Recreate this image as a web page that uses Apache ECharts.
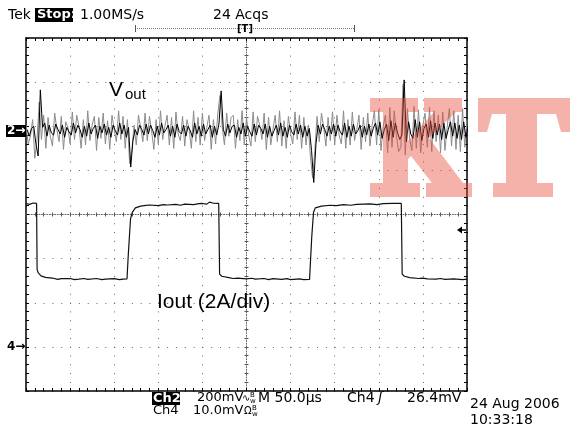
<!DOCTYPE html>
<html>
<head>
<meta charset="utf-8">
<script src="https://cdn.jsdelivr.net/npm/echarts@6/dist/echarts.min.js"></script>
<style>
  html, body { margin: 0; padding: 0; background: #fff; }
  #mychart { width: 573px; height: 433px; }
</style>
</head>
<body>
<div id="mychart"></div>
<script>
// time base 50us/div, 10 divisions
var timeMin = 0, timeMax = 500, timeDiv = 50;
// Ch2 (Vout) 200mV/div, ground marker 1.9 div above centre
var ch2Min = -1180, ch2Max = 420;
// Ch4 (Iout) 2A/div, ground marker 3 div below centre
var ch4Min = -2, ch4Max = 14, ch4Div = 2;
var vStep = 2.5; // us between Vout samples

// Vout ripple in mV, earlier acquisitions (grey)
var voutGray = [
  25, -60, -25, 50, -125, -40, 130, -40, 70, -80,
  60, -25, -70, 80, 5, -50, 65, -85, 40, 15,
  -60, 85, -40, 70, 20, -80, 50, -65, 90, -45,
  25, 65, -90, 60, -35, 80, -60, 45, -85, 70,
  5, -50, 90, -40, 65, -80, 50, -150, -90, 25,
  -65, 70, 15, -50, 80, -45, 65, -5, -85, 50,
  -60, 90, -40, 20, 70, -65, 60, -80, 85, -15,
  -45, 65, -70, 50, 5, -80, 90, -50, 60, -65,
  80, -45, 15, 70, -85, 50, -60, 80, 160, 15,
  -65, 80, -25, 60, 70, -80, 50, -45, 90, -65,
  60, -20, -70, 85, -50, 65, 25, -40, 80, -85,
  60, -65, 5, 70, -50, 90, -70, 45, -80, 65,
  -15, -60, 85, -40, 70, -80, 60, -65, 25, -120,
  -215, -90, 65, -50, 80, 15, -70, 60, -45, 85,
  -65, 70, -20, -60, 90, -80, 50, -65, 85, -45,
  5, 70, -85, 60, -50, 80, -70, 25, 90, -65,
  95, -90, 20, 70, -100, 105, -75, 90, -25, -95,
  -75, 210, -110, 100, -40, -90, 110, -80, 95, -100,
  25, 80, -75, 105, -95, 90, -50, 70, -100, 85,
  -90, 15, 100, -70, 90, -85, 70, -95, 100, -75,
  50
];
// Vout ripple in mV, last acquisition (black), sampled half a step later
var voutBlack = [
  5, -25, 10, 20, -60, -115, 185, 15, 35, -25,
  25, -10, -20, 30, 5, -15, 25, -30, 15, -5,
  -20, 35, -10, 25, 5, -30, 20, -25, 35, -15,
  10, 25, -35, 20, -10, 30, -20, 15, -30, 25,
  0, -20, 35, -15, 25, -30, 15, -165, -45, 5,
  -20, 25, 5, -20, 30, -15, 25, 0, -30, 20,
  -20, 35, -10, 5, 25, -25, 20, -30, 30, -5,
  -15, 25, -25, 20, 0, -30, 35, -15, 20, -25,
  30, -15, 5, 25, -30, 20, -20, 30, 180, 5,
  -25, 30, -10, 20, 25, -30, 15, -15, 35, -25,
  20, -5, -25, 30, -20, 25, 10, -15, 30, -30,
  20, -25, 0, 25, -20, 35, -25, 15, -30, 25,
  -5, -20, 30, -15, 25, -30, 20, -25, 10, -90,
  -235, -60, 25, -15, 30, 5, -25, 20, -15, 30,
  -25, 25, -5, -20, 35, -30, 20, -25, 30, -15,
  0, 25, -30, 20, -20, 30, -25, 10, 35, -20,
  40, -35, 5, 30, -45, 45, -30, 35, -10, -40,
  -20, 230, -50, 40, -15, -35, 50, -30, 40, -45,
  10, 30, -30, 45, -35, 35, -20, 30, -40, 35,
  -35, 5, 40, -25, 35, -35, 25, -40, 40, -30,
  15
];
// Iout [us, A]
var ioutPts = [
  [0, 6.5], [4, 6.46], [8, 6.52], [12, 6.5], [12.6, 3.5], [14, 3.35], [17, 3.22], [22, 3.15],
  [30, 3.12], [36, 3.06], [40, 3.09], [50, 3.1], [55, 3.05], [60, 3.07], [66, 3.1], [70, 3.06],
  [80, 3.1], [86, 3.05], [90, 3.07], [100, 3.09], [106, 3.05], [110, 3.07], [114.5, 3.08],
  [116, 4.2], [118.5, 5.8], [120.5, 6.1], [124, 6.3], [130, 6.38], [136, 6.41], [140, 6.43],
  [150, 6.4], [156, 6.45], [160, 6.43], [170, 6.46], [175, 6.42], [180, 6.47], [190, 6.45],
  [196, 6.49], [200, 6.5], [205, 6.47], [208, 6.56], [212, 6.52], [218.5, 6.5],
  [219.5, 3.3], [222, 3.2], [230, 3.14], [235, 3.1], [240, 3.12], [250, 3.08], [256, 3.11],
  [260, 3.07], [270, 3.1], [275, 3.05], [280, 3.09], [290, 3.06], [296, 3.09], [300, 3.05],
  [310, 3.08], [315, 3.05], [321.5, 3.06], [324, 5.0], [326, 6.1], [328, 6.3], [335, 6.38],
  [345, 6.42], [352, 6.4], [360, 6.45], [368, 6.42], [375, 6.46], [390, 6.48], [398, 6.45],
  [405, 6.49], [415, 6.5], [425.5, 6.5], [426.5, 3.3], [429, 3.2], [435, 3.14], [445, 3.1],
  [450, 3.12], [455, 3.08], [465, 3.07], [470, 3.1], [475, 3.06], [485, 3.08], [495, 3.05],
  [500, 3.07]
];

var grayData = voutGray.map(function (v, i) { return [i * vStep, v]; });
var blackData = voutBlack.map(function (v, i) { return [(i + 0.5) * vStep, v]; });

var mychart = echarts.init(document.getElementById('mychart'));

var dots = { show: true, lineStyle: { color: '#666', width: 1, type: [1, 7.82] } };
function borderAxis(pos, extra) {
  var a = {
    position: pos,
    axisLine: { show: true, onZero: false, lineStyle: { color: '#000', width: 1.5 } },
    axisTick: { show: true, inside: true, length: 3, lineStyle: { color: '#000' } },
    minorTick: { show: true, splitNumber: 5, length: 3, lineStyle: { color: '#000' } },
    axisLabel: { show: false },
    splitLine: { show: false }
  };
  for (var k in extra) a[k] = extra[k];
  return a;
}
function centreAxis(pos, off, inside, lineOn) {
  return {
    position: pos, offset: off,
    axisLine: { show: lineOn, onZero: false, lineStyle: { color: '#666', width: 1, type: [1, 1.6] } },
    axisTick: { show: true, inside: inside, length: 2, lineStyle: { color: '#555' } },
    minorTick: { show: true, splitNumber: 5, length: 2, lineStyle: { color: '#555' } },
    axisLabel: { show: false },
    splitLine: { show: false }
  };
}
function xa(o) { o.type = 'value'; o.min = timeMin; o.max = timeMax; o.interval = timeDiv; return o; }
function ya(o) { o.type = 'value'; o.min = -4; o.max = 4; o.interval = 1; return o; }

function txt(x, y, s, o) {
  o = o || {};
  return {
    type: 'text', x: x, y: y, z: o.z || 10,
    style: {
      text: s, fill: o.fill || '#000',
      font: o.font || '14px "DejaVu Sans"',
      textAlign: o.align || 'left', textVerticalAlign: 'middle'
    }
  };
}
function box(x, y, w, h) {
  return { type: 'rect', z: 9, shape: { x: x, y: y, width: w, height: h }, style: { fill: '#000' } };
}
// slab-serif "KT" stamp outlines
var kShape = [
  [370, 98], [418, 98], [418, 112], [408, 112], [408, 141], [434, 112], [424, 112], [424, 98],
  [462, 98], [462, 112], [456, 112], [429, 138], [463, 183], [472, 183], [472, 197], [426, 197],
  [426, 183], [432, 183], [411, 156], [408, 159], [408, 183], [420, 183], [420, 197], [370, 197],
  [370, 183], [383, 183], [383, 112], [370, 112]
];
var tShape = [
  [478, 98], [570, 98], [570, 132], [561, 132], [556, 114], [537, 114], [537, 183], [553, 183],
  [553, 197], [493, 197], [493, 183], [506, 183], [506, 114], [492, 114], [487, 132], [478, 132]
];
var stampFill = 'rgba(228,71,52,0.42)';

var option = {
  animation: false,
  backgroundColor: '#fff',
  grid: { left: 26, top: 38, width: 441, height: 353 },
  xAxis: [
    xa(borderAxis('bottom', { splitLine: dots })),
    xa(borderAxis('top', {})),
    xa(centreAxis('bottom', -176.5, true, true)),
    xa(centreAxis('bottom', -176.5, false, false))
  ],
  yAxis: [
    ya(borderAxis('left', { splitLine: dots })),
    ya(borderAxis('right', {})),
    ya(centreAxis('left', -220.5, true, true)),
    ya(centreAxis('left', -220.5, false, false)),
    { type: 'value', min: ch2Min, max: ch2Max, show: false },
    { type: 'value', min: ch4Min, max: ch4Max, interval: ch4Div, show: false }
  ],
  series: [
    {
      name: 'Vout grey', type: 'line', xAxisIndex: 0, yAxisIndex: 4,
      data: grayData, symbol: 'none', silent: true,
      lineStyle: { color: '#8c8c8c', width: 1 }
    },
    {
      name: 'Vout', type: 'line', xAxisIndex: 0, yAxisIndex: 4,
      data: blackData, symbol: 'none', silent: true,
      lineStyle: { color: '#000', width: 1 }
    },
    {
      name: 'Iout', type: 'line', xAxisIndex: 0, yAxisIndex: 5,
      data: ioutPts, symbol: 'none', silent: true,
      lineStyle: { color: '#111', width: 1.2 }
    }
  ],
  graphic: [
    // header
    txt(8, 15, 'Tek'),
    box(35, 8, 38, 14),
    txt(37, 15, 'Stop:', { fill: '#fff', font: 'bold 13px "DejaVu Sans"' }),
    txt(80, 15, '1.00MS/s'),
    txt(213, 15, '24 Acqs'),
    { type: 'line', z: 9, shape: { x1: 135, y1: 28.5, x2: 355, y2: 28.5 }, style: { stroke: '#777', lineWidth: 1, lineDash: [1, 1] } },
    { type: 'line', z: 9, shape: { x1: 135.5, y1: 25, x2: 135.5, y2: 32 }, style: { stroke: '#555', lineWidth: 1 } },
    { type: 'line', z: 9, shape: { x1: 354.5, y1: 25, x2: 354.5, y2: 32 }, style: { stroke: '#555', lineWidth: 1 } },
    txt(245, 29, '[T]', { font: 'bold 11px "DejaVu Sans Condensed"', align: 'center' }),
    // channel markers
    box(6, 125, 20, 12),
    txt(7, 131, '2\u2192', { fill: '#fff', font: 'bold 12px "DejaVu Sans"' }),
    txt(7, 347, '4\u2192', { font: 'bold 12px "DejaVu Sans"' }),
    { type: 'polygon', z: 9, shape: { points: [[457, 230], [462, 226.5], [462, 233.5]] }, style: { fill: '#000' } },
    { type: 'line', z: 9, shape: { x1: 461, y1: 230, x2: 466, y2: 230 }, style: { stroke: '#000', lineWidth: 1.5 } },
    // labels
    txt(109, 90, 'V', { font: '21px "Liberation Sans"' }),
    txt(125, 95, 'out', { font: '15px "Liberation Sans"' }),
    txt(157, 302, 'Iout (2A/div)', { font: '21px "Liberation Sans"' }),
    // footer
    box(152, 392, 28, 13),
    txt(153, 398.5, 'Ch2', { fill: '#fff', font: 'bold 13px "DejaVu Sans"' }),
    txt(197, 398, '200mV', { font: '13px "DejaVu Sans"' }),
    txt(242, 398, '\u223F', { font: '10px "DejaVu Sans"' }),
    txt(250, 395, 'B', { font: '7px "DejaVu Sans"' }),
    txt(250, 401, 'w', { font: '7px "DejaVu Sans"' }),
    txt(258, 398, 'M 50.0\u00B5s'),
    txt(347, 398, 'Ch4'),
    txt(378, 398, '\u0283', { font: 'italic 14px "DejaVu Sans"' }),
    txt(407, 398, '26.4mV'),
    txt(153, 411, 'Ch4', { font: '13px "DejaVu Sans"' }),
    txt(193, 411, '10.0mV', { font: '13px "DejaVu Sans"' }),
    txt(244, 411, '\u03A9', { font: '10px "DejaVu Sans"' }),
    txt(252, 408, 'B', { font: '7px "DejaVu Sans"' }),
    txt(252, 414, 'w', { font: '7px "DejaVu Sans"' }),
    txt(470, 404, '24 Aug 2006'),
    txt(470, 420, '10:33:18'),
    // watermark stamp, drawn over the traces
    { type: 'polygon', z: 100, zlevel: 1, shape: { points: kShape }, style: { fill: stampFill } },
    { type: 'polygon', z: 100, zlevel: 1, shape: { points: tShape }, style: { fill: stampFill } }
  ]
};
mychart.setOption(option);
</script>
</body>
</html>
